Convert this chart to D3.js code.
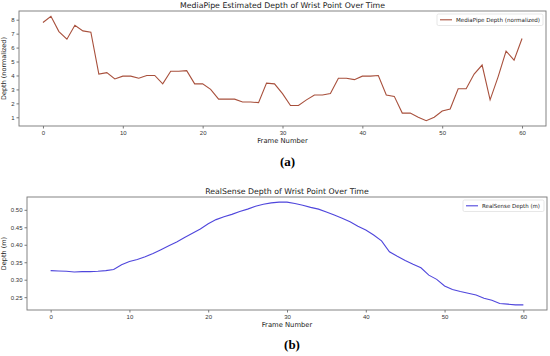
<!DOCTYPE html>
<html>
  <head>
    <meta charset="utf-8">
    <title>Wrist depth over time</title>
    <style>
      body{ margin:0; background:#fff; }
      svg{ display:block; font-family:"DejaVu Sans", sans-serif; }
      .tick text{ font-size:6px; fill:#333; }
      .tick line{ stroke:#777; }
    </style>
  </head>
  <body>
    <svg id="chart" width="550" height="356"></svg>
  </body>
  <script src="https://d3js.org/d3.v7.min.js"></script>
  <script>
    var frames = d3.range(0, 61)
    var mediapipeDepth = [7.8,8.25,7.15,6.6,7.6,7.2,7.1,4.1,4.2,3.75,3.95,3.95,3.8,4.0,4.0,3.4,4.3,4.3,4.35,3.4,
      3.4,3.0,2.3,2.3,2.3,2.1,2.1,2.05,3.45,3.4,2.7,1.85,1.85,2.25,2.6,2.6,2.7,3.8,3.8,3.7,
      3.95,3.95,4.0,2.6,2.5,1.3,1.3,1.0,0.75,1.0,1.45,1.6,3.05,3.05,4.1,4.75,2.25,3.9,5.75,5.1,6.65]
    var realsenseDepth = [0.326,0.325,0.324,0.322,0.323,0.323,0.324,0.326,0.329,0.343,0.352,0.358,0.366,0.375,0.386,0.397,0.408,0.421,0.433,0.445,
      0.460,0.472,0.480,0.487,0.495,0.502,0.510,0.516,0.520,0.522,0.522,0.518,0.513,0.507,0.502,0.494,0.485,0.476,0.466,0.453,
      0.442,0.428,0.411,0.380,0.367,0.355,0.344,0.334,0.313,0.301,0.282,0.272,0.266,0.261,0.256,0.247,0.241,0.232,0.230,0.228,0.228]
    var xTicks = [0,10,20,30,40,50,60]
    var mpTicks = [1,2,3,4,5,6,7,8]
    var rsTicks = [0.25,0.30,0.35,0.40,0.45,0.50]

    var svg = d3.select("#chart")

    // matplotlib style padded domain (5% each side)
    function padded(vals){
      var ext = d3.extent(vals), m = (ext[1]-ext[0])*0.05
      return [ext[0]-m, ext[1]+m]
    }

    function panel(opts){
      var x = d3.scaleLinear().domain(padded(frames)).range([opts.left, opts.right])
      var y = d3.scaleLinear().domain(padded(opts.values)).range([opts.bottom, opts.top])
      var g = svg.append("g")

      g.append("g").attr("transform","translate(0,"+opts.bottom+")")
        .call(d3.axisBottom(x).tickValues(xTicks).tickSize(2.5).tickPadding(2).tickFormat(d3.format("d")))
        .call(function(a){ a.select(".domain").remove() })
      g.append("g").attr("transform","translate("+opts.left+",0)")
        .call(d3.axisLeft(y).tickValues(opts.ticks).tickSize(2.5).tickPadding(2).tickFormat(opts.fmt))
        .call(function(a){ a.select(".domain").remove() })

      g.append("path").datum(opts.values)
        .attr("fill","none").attr("stroke",opts.color).attr("stroke-width",1.1)
        .attr("d", d3.line().x(function(d,i){ return x(frames[i]) }).y(function(d){ return y(d) }))

      g.append("rect").attr("x",opts.left).attr("y",opts.top)
        .attr("width",opts.right-opts.left).attr("height",opts.bottom-opts.top)
        .attr("fill","none").attr("stroke","#777").attr("stroke-width",0.9)

      g.append("text").attr("x",(opts.left+opts.right)/2).attr("y",opts.top-3)
        .attr("text-anchor","middle").attr("font-size",7.8).attr("fill","#222").text(opts.title)
      g.append("text").attr("x",(opts.left+opts.right)/2).attr("y",opts.bottom+17)
        .attr("text-anchor","middle").attr("font-size",6.8).attr("fill","#222").text("Frame Number")
      g.append("text").attr("transform","translate("+(opts.ylabX)+","+((opts.top+opts.bottom)/2)+") rotate(-90)")
        .attr("text-anchor","middle").attr("font-size",6.5).attr("fill","#222").text(opts.ylabel)

      // legend
      var lg = g.append("g").attr("transform","translate("+opts.legX+","+(opts.top+3)+")")
      lg.append("rect").attr("width",opts.right-3-opts.legX).attr("height",11.5).attr("rx",1.5)
        .attr("fill","#fff").attr("stroke","#ddd").attr("stroke-width",0.7)
      lg.append("line").attr("x1",3).attr("x2",15).attr("y1",5.8).attr("y2",5.8)
        .attr("stroke",opts.color).attr("stroke-width",1.1)
      lg.append("text").attr("x",19).attr("y",8).attr("font-size",5.6).attr("fill","#222")
        .attr("textLength",opts.legW).attr("lengthAdjust","spacingAndGlyphs").text(opts.legend)

      svg.append("text").attr("x",(opts.left+opts.right)/2+5).attr("y",opts.capY)
        .attr("text-anchor","middle").attr("font-family","'Liberation Serif', serif")
        .attr("font-size",13).attr("font-weight","bold").attr("fill","#000").text(opts.caption)
    }

    panel({left:19, right:546, top:11, bottom:126, values:mediapipeDepth, ticks:mpTicks,
      fmt:d3.format("d"), color:"#a8503c", title:"MediaPipe Estimated Depth of Wrist Point Over Time",
      ylabel:"Depth (normalized)", ylabX:6, legX:437, legW:84, legend:"MediaPipe Depth (normalized)",
      caption:"(a)", capY:166})
    panel({left:27, right:547, top:197, bottom:310, values:realsenseDepth, ticks:rsTicks,
      fmt:d3.format(".2f"), color:"#4f46dc", title:"RealSense Depth of Wrist Point Over Time",
      ylabel:"Depth (m)", ylabX:6, legX:463, legW:58, legend:"RealSense Depth (m)",
      caption:"(b)", capY:349})
  </script>
</html>
